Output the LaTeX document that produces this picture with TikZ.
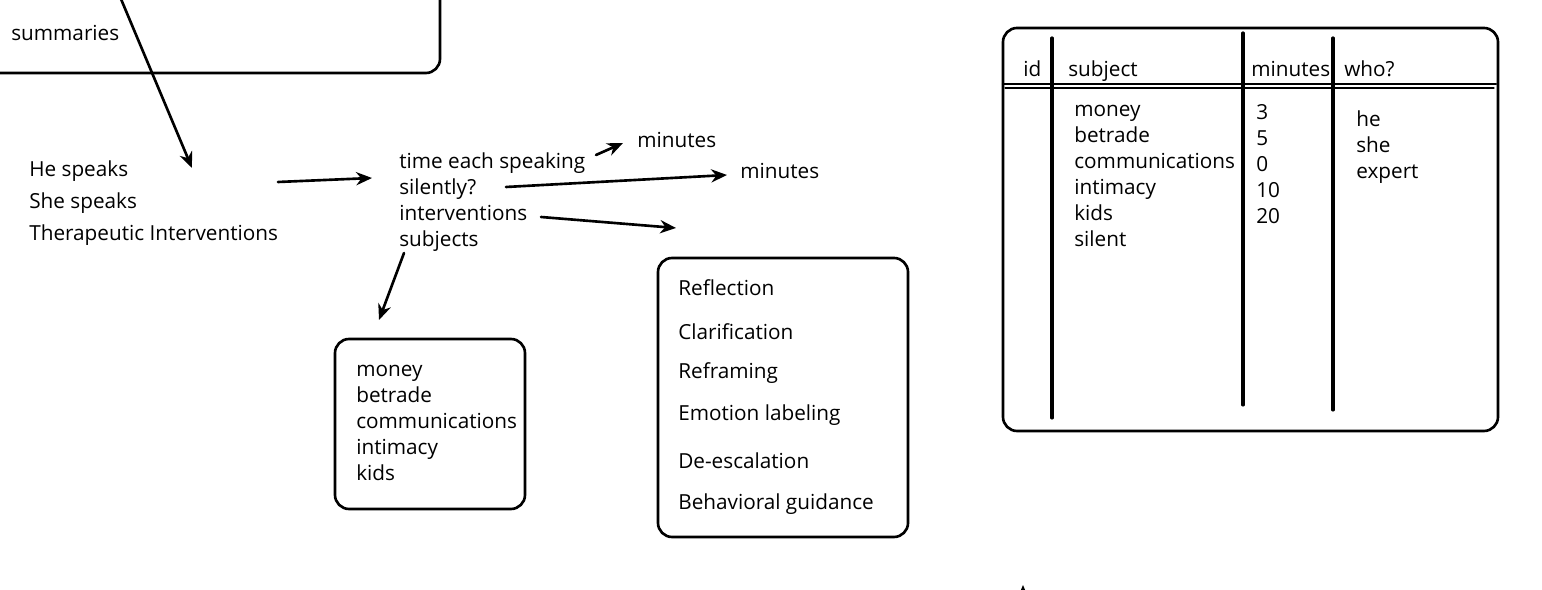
\documentclass[tikz,border=0pt]{standalone}
\usepackage{fontspec}
\setmainfont{Open Sans}
\usetikzlibrary{arrows.meta, positioning}

\begin{document}
\begin{tikzpicture}[x=0.02cm, y=-0.02cm, >={Stealth[length=9pt, width=7.5pt]},
    line width=1.5pt, line cap=round,
    txt/.style={anchor=base west, inner sep=0pt, font=\fontsize{11.8}{14}\selectfont},
    sketchbox/.style={draw, rounded corners=8pt, line width=1.5pt},
    colline/.style={line width=1.8pt}]

    % --- canvas ---
    \useasboundingbox (0,0) rectangle (1542,590);
    \clip (0,0) rectangle (1542,590);

    % --- summary box (cut by the top edge) ---
    \draw[sketchbox] (-40,-40) rectangle (440,73);
    \node[txt] (summaries) at (10,41) {summaries};
    \coordinate (TopStart) at (113,-20);
    \coordinate (SpeakEnd) at (192,168);
    \draw[->] (TopStart) -- (SpeakEnd);

    % --- who speaks ---
    \node[txt] (he) at (28,177) {He speaks};
    \node[txt] (she) at (28,209) {She speaks};
    \node[txt] (therapy) at (28,241) {Therapeutic Interventions};
    \coordinate (MainStart) at (278,182);
    \coordinate (MainEnd) at (372,178);
    \draw[->] (MainStart) -- (MainEnd);

    % --- what is measured ---
    \node[txt] (time) at (398,169) {time each speaking};
    \node[txt] (silent) at (398,195) {silently?};
    \node[txt] (interv) at (398,221) {interventions};
    \node[txt] (subjects) at (398,247) {subjects};
    \node[txt] (minA) at (636,148) {minutes};
    \node[txt] (minB) at (739,179) {minutes};

    \coordinate (TimeStart) at (596,155);
    \coordinate (TimeEnd) at (623,143);
    \draw[->] (TimeStart) -- (TimeEnd);
    \coordinate (SilStart) at (506,187);
    \coordinate (SilEnd) at (727,175);
    \draw[->] (SilStart) -- (SilEnd);
    \coordinate (IntStart) at (541,217);
    \coordinate (IntEnd) at (676,228);
    \draw[->] (IntStart) -- (IntEnd);
    \coordinate (SubStart) at (404,253);
    \coordinate (SubEnd) at (379,320);
    \draw[->] (SubStart) -- (SubEnd);

    % --- subjects box ---
    \draw[sketchbox] (335,339) rectangle (525,509);
    \foreach \w [count=\i] in {money, betrade, communications, intimacy, kids}
        \node[txt] (subj\i) at (355,351+26*\i) {\w};

    % --- interventions box ---
    \draw[sketchbox] (658,258) rectangle (908,537);
    \foreach \w/\y [count=\i] in {Reflection/296, Clarification/340, Reframing/379,
            Emotion labeling/421, De-escalation/469, Behavioral guidance/510}
        \node[txt] (tech\i) at (677,\y) {\w};

    % --- table ---
    \draw[sketchbox] (1003,28) rectangle (1498,431);
    \draw (1003,84) -- (1496,84);
    \draw[line width=0.6pt] (1005,88) -- (1494,88);
    \draw[colline] (1052,38) -- (1052,418);
    \draw[colline] (1243,33) -- (1243,405);
    \draw[colline] (1333,38) -- (1333,410);

    \node[txt] (hid) at (1022,77) {id};
    \node[txt] (hsubject) at (1067,77) {subject};
    \node[txt] (hminutes) at (1250,77) {minutes};
    \node[txt] (hwho) at (1343,77) {who?};

    \foreach \w [count=\i] in {money, betrade, communications, intimacy, kids, silent}
        \node[txt] (row\i) at (1073,91+26*\i) {\w};
    \foreach \w [count=\i] in {3, 5, 0, 10, 20}
        \node[txt] (min\i) at (1255,94+26*\i) {\w};
    \foreach \w [count=\i] in {he, she, expert}
        \node[txt] (who\i) at (1355,101+26*\i) {\w};

    % --- arrow tip at the bottom edge ---
    \coordinate (BotStart) at (1023,610);
    \coordinate (BotEnd) at (1023,585);
    \draw[->] (BotStart) -- (BotEnd);

\end{tikzpicture}
\end{document}
